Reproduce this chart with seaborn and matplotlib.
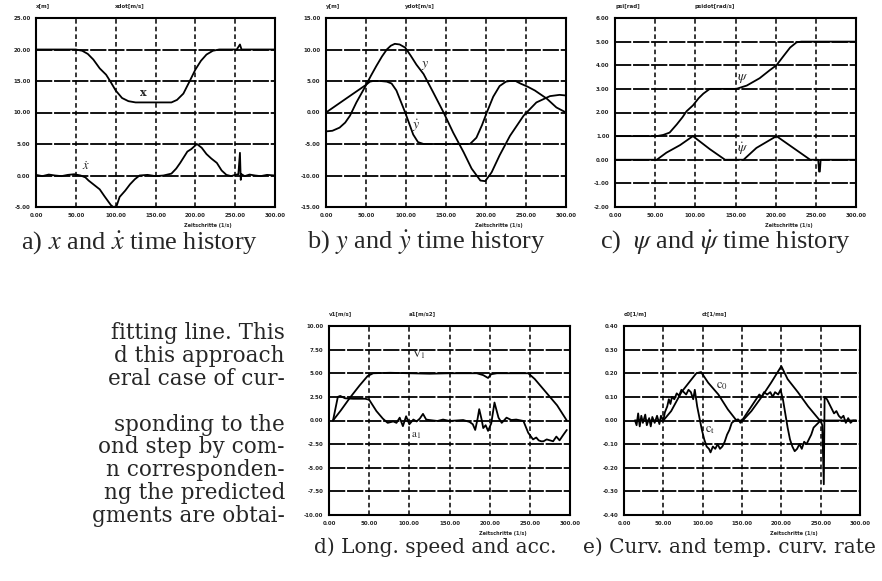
import matplotlib
matplotlib.use("Agg")
import matplotlib.pyplot as plt
import seaborn as sns

W, H = 882, 581

TIME_TICKS = [0, 50, 100, 150, 200, 250, 300]

# ---------------------------------------------------------------------------
# a) x and x-dot
# ---------------------------------------------------------------------------
A_YTICKS = [-5, 0, 5, 10, 15, 20, 25]
A_X_T = [0, 50, 58, 65, 72, 80, 88, 93, 100, 108, 116, 125, 170, 177, 185,
         193, 200, 207, 214, 222, 230, 252, 256, 258, 300]
A_X = [20, 20, 19.8, 19.3, 18.4, 17.0, 16.0, 15.0, 13.5, 12.3, 11.8, 11.6,
       11.6, 12.0, 13.0, 15.0, 16.8, 18.2, 19.2, 19.8, 20, 20, 20.8, 20, 20]
A_XD_T = [0, 8, 16, 24, 32, 40, 48, 56, 62, 66, 72, 80, 86, 90, 94, 97, 101,
          105, 112, 118, 124, 130, 140, 150, 160, 170, 176, 181, 186, 190, 195,
          202, 208, 214, 220, 227, 233, 239, 245, 250, 254, 256, 257, 258, 262,
          268, 275, 282, 290, 300]
A_XD = [0.1, -0.1, 0.15, 0, -0.1, 0.1, 0.2, 0, -0.3, -0.8, -1.4, -2.2, -3.3,
        -4.0, -4.7, -5.0, -4.9, -3.4, -2.4, -1.4, -0.6, 0, 0.1, -0.1, 0, 0.3,
        1.1, 2.0, 3.0, 3.8, 4.2, 5.0, 4.4, 3.4, 2.7, 2.0, 0.8, 0.1, -0.1, 0.1,
        0.2, 3.6, -0.7, 0.2, -0.1, 0.15, 0, -0.1, 0.1, 0]

# ---------------------------------------------------------------------------
# b) y and y-dot
# ---------------------------------------------------------------------------
B_YTICKS = [-15, -10, -5, 0, 5, 10, 15]
B_Y_T = [0, 8, 17, 24, 30, 38, 49, 56, 63, 70, 76, 81, 86, 92, 99, 106, 113,
         122, 134, 147, 159, 172, 182, 193, 199, 207, 217, 230, 247, 263, 280,
         292, 300]
B_Y = [-3.0, -2.9, -2.4, -1.6, -0.5, 1.6, 4.1, 5.8, 7.4, 8.9, 10.0, 10.6,
       10.9, 10.8, 10.3, 9.0, 7.6, 6.1, 3.2, 0.0, -3.2, -6.3, -8.9, -10.8,
       -10.9, -9.5, -6.8, -3.7, -0.5, 1.6, 2.6, 2.8, 2.7]
B_YD_T = [0, 25, 49, 55, 59, 68, 76, 82, 88, 99, 109, 115, 122, 150, 180, 188,
          195, 201, 209, 217, 225, 230, 237, 243, 252, 261, 276, 288, 300]
B_YD = [0, 2.2, 4.3, 4.9, 5.0, 5.0, 4.9, 4.6, 3.5, 0, -3.5, -4.7, -5.0, -5.0,
        -5.0, -4.0, -2.0, 0, 2.5, 4.2, 4.9, 5.0, 5.0, 4.6, 4.1, 3.5, 2.2, 0.8, 0]

# ---------------------------------------------------------------------------
# c) psi and psi-dot
# ---------------------------------------------------------------------------
C_YTICKS = [-2, -1, 0, 1, 2, 3, 4, 5, 6]
C_PSI_T = [0, 52, 60, 68, 77, 84, 89, 97, 104, 110, 118, 151, 164, 180, 193,
           201, 210, 218, 226, 232, 300]
C_PSI = [1, 1, 1.05, 1.15, 1.5, 1.8, 2.05, 2.3, 2.6, 2.8, 3.0, 3.0, 3.14,
         3.45, 3.8, 4.0, 4.4, 4.75, 4.97, 5.0, 5.0]
C_PSID_T = [0, 52, 64, 81, 97, 118, 137, 160, 176, 201, 222, 243, 253, 254,
            255, 256, 300]
C_PSID = [0, 0, 0.3, 0.62, 1.0, 0.45, 0, 0, 0.5, 1.0, 0.5, 0, 0, -0.5, -0.5,
          0, 0]

# ---------------------------------------------------------------------------
# d) longitudinal speed and acceleration
# ---------------------------------------------------------------------------
D_YTICKS = [-10, -7.5, -5, -2.5, 0, 2.5, 5, 7.5, 10]
D_V_T = [5, 15, 26, 38, 48, 55, 76, 100, 125, 150, 184, 192, 198, 202, 209,
         230, 248, 256, 270, 284, 296]
D_V = [0, 1.1, 2.4, 3.7, 4.7, 5.0, 5.05, 5.0, 4.95, 5.0, 5.0, 4.8, 4.5, 4.9,
       5.0, 5.0, 5.0, 4.4, 3.0, 1.6, 0]
D_A_T = [5, 11, 14, 20, 30, 45, 50, 59, 67, 73,
         80, 84, 88, 92, 96, 100, 105, 109, 113, 117,
         121, 125, 135, 142, 150, 159, 167, 175, 179, 182,
         185, 187, 190, 192, 195, 198, 202, 206, 211, 215,
         221, 227, 233, 242, 248, 254, 258, 261, 264, 267,
         271, 275, 279, 283, 287, 291, 296]
D_A = [0, 2.5, 2.6, 2.35, 2.3, 2.3, 2.2, 1.0, 0.2, -0.25,
       -0.1, -0.25, 0.3, -0.6, 0.45, -0.4, 0.1, -0.1, 0.2, 0.7,
       0.1, 0.05, -0.05, 0.1, -0.05, 0.0, 0.05, -0.15, -0.4, -1.0,
       0.2, 1.2, 0.1, -0.8, -0.5, -1.1, -0.3, 1.9, 0.3, -0.25,
       0.3, 0.05, 0.1, -0.05, -1.3, -2.0, -1.8, -2.1, -2.2, -2.2,
       -2.0, -2.1, -2.2, -1.7, -2.1, -1.6, -1.0]

# ---------------------------------------------------------------------------
# e) curvature and temporal curvature rate
# ---------------------------------------------------------------------------
E_YTICKS = [-0.4, -0.3, -0.2, -0.1, 0.0, 0.1, 0.2, 0.3, 0.4]
E_C0_T = [14, 50, 60, 73, 86, 92, 98, 107, 120, 132, 143, 151, 162, 175, 187,
          200, 208, 221, 234, 249, 295]
E_C0 = [0, 0, 0.04, 0.12, 0.175, 0.2, 0.205, 0.16, 0.11, 0.047, 0, 0, 0.04,
        0.1, 0.16, 0.23, 0.175, 0.12, 0.06, 0, 0]
E_CT_T = [14, 16, 18, 20, 22, 24, 27, 29, 32, 34,
          36, 39, 42, 45, 47, 50, 52, 55, 57, 59,
          61, 64, 67, 70, 73, 76, 79, 82, 85, 88,
          90, 93, 96, 99, 102, 105, 108, 110, 113, 116,
          119, 122, 125, 128, 131, 134, 137, 141, 145, 148,
          152, 156, 160, 164, 168, 172, 175, 178, 182, 186,
          189, 192, 196, 199, 202, 205, 208, 211, 214, 217,
          220, 223, 226, 229, 232, 235, 238, 241, 244, 247,
          250, 252, 254, 255, 258, 261, 264, 267, 270, 273,
          276, 279, 282, 285, 288, 291, 295]
E_CT = [0.0, -0.02, 0.03, -0.025, 0.02, -0.01, 0.025, -0.02, 0.01, -0.025,
        0.015, -0.01, 0.02, -0.015, 0.02, 0.0, 0.035, 0.06, 0.09, 0.07,
        0.1, 0.09, 0.115, 0.105, 0.13, 0.12, 0.11, 0.13, 0.12, 0.09,
        0.13, 0.06, 0.01, -0.04, -0.08, -0.11, -0.12, -0.135, -0.11, -0.12,
        -0.1, -0.12, -0.11, -0.09, -0.06, -0.04, -0.01, 0.0, 0.005, -0.01,
        0.01, 0.03, 0.05, 0.07, 0.09, 0.11, 0.1, 0.12, 0.11, 0.12,
        0.1, 0.12, 0.11, 0.13, 0.09, 0.03, -0.03, -0.08, -0.11, -0.13,
        -0.12, -0.1, -0.12, -0.09, -0.1, -0.08, -0.06, -0.03, -0.02, -0.01,
        0.0, -0.02, -0.27, 0.1, 0.09, 0.07, 0.05, 0.03, 0.04, 0.02,
        0.01, 0.02, -0.01, 0.01, -0.01, 0.0, 0.0]

CAPTIONS_TOP = [r"a) $x$ and $\dot{x}$ time history",
                r"b) $y$ and $\dot{y}$ time history",
                r"c)  $\psi$ and $\dot{\psi}$ time history"]
CAPTIONS_BOTTOM = ["d) Long. speed and acc.",
                   "e) Curv. and temp. curv. rate"]
BODY_LINES = ["fitting line. This", "d this approach", "eral case of cur-",
              "", "sponding to the", "ond step by com-", "n corresponden-",
              "ng the predicted", "gments are obtai-"]


sns.set_style("white")
plt.rcParams["mathtext.fontset"] = "stix"

fig = plt.figure(figsize=(W / 100, H / 100), dpi=100)


def px_axes(left, top, right, bottom):
    return fig.add_axes([left / W, 1 - bottom / H,
                         (right - left) / W, (bottom - top) / H])


def style_panel(ax, yticks, header, xlabel="Zeitschritte (1/s)"):
    ax.set_xlim(0, 300)
    ax.set_ylim(yticks[0], yticks[-1])
    ax.set_xticks(TIME_TICKS)
    ax.set_yticks(yticks)
    ax.set_xticklabels([f"{t:.2f}" for t in TIME_TICKS])
    ax.set_yticklabels([f"{v:.2f}" for v in yticks])
    ax.tick_params(length=0, labelsize=4, pad=4)
    for lab in ax.get_xticklabels() + ax.get_yticklabels():
        lab.set_fontweight("bold")
    ax.xaxis.grid(True, color="black", lw=1.1, ls=(0, (3, 2)))
    ax.yaxis.grid(True, color="black", lw=1.3, ls=(0, (9, 1)))
    for s in ax.spines.values():
        s.set_color("black")
        s.set_linewidth(1.5)
    ax.set_xlabel("")
    ax.set_ylabel("")
    ax.text(0.0, 1.05, header[0], transform=ax.transAxes, fontsize=4,
            fontweight="bold", ha="left", va="bottom")
    ax.text(0.33, 1.05, header[1], transform=ax.transAxes, fontsize=4,
            fontweight="bold", ha="left", va="bottom")
    ax.text(0.72, -0.085, xlabel, transform=ax.transAxes, fontsize=3.6,
            fontweight="bold", ha="center", va="top")


def draw(ax, t, v):
    sns.lineplot(x=t, y=v, ax=ax, color="black", linewidth=1.3,
                 sort=False, estimator=None, errorbar=None)


label_kw = dict(fontsize=8, fontweight="bold", family="DejaVu Serif",
                ha="center", va="center")

# a)
ax = px_axes(36, 18, 275, 207)
draw(ax, A_X_T, A_X)
draw(ax, A_XD_T, A_XD)
style_panel(ax, A_YTICKS, ("x[m]", "xdot[m/s]"))
ax.text(135, 13.2, "x", **label_kw)
ax.text(63, 1.4, r"$\dot{x}$", fontsize=9, ha="center", va="center")

# b)
ax = px_axes(326, 18, 566, 207)
draw(ax, B_Y_T, B_Y)
draw(ax, B_YD_T, B_YD)
style_panel(ax, B_YTICKS, ("y[m]", "ydot[m/s]"))
ax.text(124, 7.6, r"$y$", fontsize=10, ha="center", va="center")
ax.text(113, -2.2, r"$\dot{y}$", fontsize=10, ha="center", va="center")

# c)
ax = px_axes(615, 18, 856, 207)
draw(ax, C_PSI_T, C_PSI)
draw(ax, C_PSID_T, C_PSID)
style_panel(ax, C_YTICKS, ("psi[rad]", "psidot[rad/s]"))
ax.text(159, 3.45, r"$\psi$", fontsize=10, ha="center", va="center")
ax.text(159, 0.45, r"$\dot{\psi}$", fontsize=10, ha="center", va="center")

# d)
ax = px_axes(329, 326, 570, 515)
draw(ax, D_V_T, D_V)
draw(ax, D_A_T, D_A)
style_panel(ax, D_YTICKS, ("v1[m/s]", "a1[m/s2]"))
ax.text(111, 7.0, r"$\mathrm{V_1}$", fontsize=8, ha="center", va="center")
ax.text(109, -1.6, r"$\mathrm{a_1}$", fontsize=8, ha="center", va="center")

# e)
ax = px_axes(624, 326, 860, 515)
draw(ax, E_C0_T, E_C0)
draw(ax, E_CT_T, E_CT)
style_panel(ax, E_YTICKS, ("c0[1/m]", "ct[1/ms]"))
ax.text(124, 0.15, r"$\mathrm{c_0}$", fontsize=9, ha="center", va="center")
ax.text(109, -0.04, r"$\mathrm{c_t}$", fontsize=9, ha="center", va="center")

# captions
for cx, cap in zip([140, 426, 726], CAPTIONS_TOP):
    fig.text(cx / W, 1 - 243 / H, cap, fontsize=19, family="Liberation Serif",
             ha="center", va="center")
for cx, cap in zip([435, 729], CAPTIONS_BOTTOM):
    fig.text(cx / W, 1 - 547 / H, cap, fontsize=14.5, family="DejaVu Serif",
             ha="center", va="center")

# fragment of the body text in the left column
for i, line in enumerate(BODY_LINES):
    y = 333 + i * 22.9
    fig.text(285 / W, 1 - y / H, line, fontsize=15.5, family="DejaVu Serif",
             ha="right", va="center")

fig.savefig("out.png", dpi=100)
